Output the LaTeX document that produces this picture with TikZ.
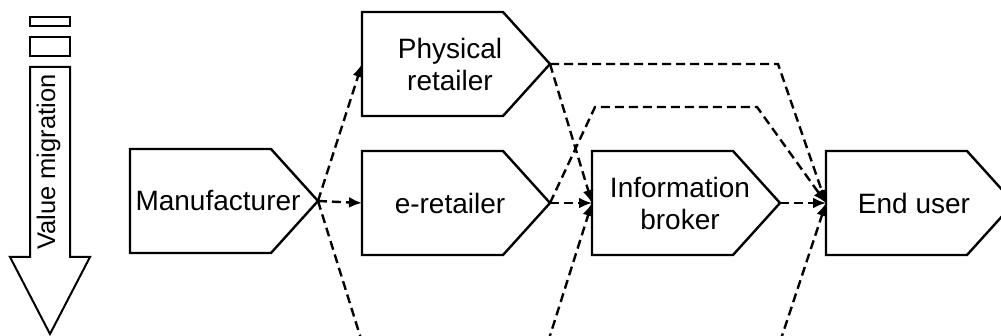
\documentclass[tikz,border=0pt]{standalone}
\usepackage{fontspec}
\setmainfont{Liberation Sans}
\usetikzlibrary{arrows.meta}

% chevron box: left edge x, centre y, label; defines name-w, name-e and the label node
\newcommand{\chevbox}[4]{%
  \draw[boxline] (#2,#3-52) -- (#2+141,#3-52) -- (#2+188,#3) -- (#2+141,#3+52)
    -- (#2,#3+52) -- cycle;
  \coordinate (#1-w) at (#2,#3);
  \coordinate (#1-e) at (#2+188,#3);
  \node[boxtext] (#1) at (#2+88,#3) {#4};
}

\begin{document}
\begin{tikzpicture}[x=1pt,y=-1pt,
  boxline/.style={line width=2.4pt,fill=white,line join=miter},
  boxtext/.style={align=center,font=\fontsize{28}{32}\selectfont,inner sep=0pt},
  flow/.style={line width=2.4pt,dash pattern=on 9pt off 5pt},
  flowarrow/.style={flow,-{Latex[length=13pt,width=11pt]}},
  vmline/.style={line width=2pt,fill=white}]
\useasboundingbox (0,0) rectangle (1001,336);
\clip (0,0) rectangle (1001,336);

% value migration arrow
\draw[vmline] (30,17) rectangle (70,26.5);
\draw[vmline] (30,37) rectangle (70,56.5);
\draw[vmline] (30,67) -- (70,67) -- (70,257) -- (90,257) -- (50,334)
  -- (10,257) -- (30,257) -- cycle;
\node[rotate=90,anchor=base,inner sep=0pt,font=\fontsize{25.5}{28}\selectfont]
  (vm) at (55,162) {Value migration};

% boxes
\chevbox{man}{130}{201}{Manufacturer}
\chevbox{phys}{362}{64}{Physical\\retailer}
\chevbox{eret}{362}{203}{e-retailer}
\chevbox{info}{592}{203}{Information\\broker}
\chevbox{end}{826}{203}{End user}

% free ends of flows leaving the picture
\coordinate (low1-w) at (362,342);
\coordinate (low2-e) at (548,342);
\coordinate (low3-e) at (780,342);
\coordinate (pe-bend) at (778,64);
\coordinate (ee-bend1) at (595,107);
\coordinate (ee-bend2) at (757,107);

% flows
\draw[flowarrow] (man-e) -- (phys-w);
\draw[flowarrow] (man-e) -- (eret-w);
\draw[flow] (man-e) -- (low1-w);
\draw[flowarrow] (phys-e) -- (info-w);
\draw[flowarrow] (phys-e) -- (pe-bend) -- (end-w);
\draw[flowarrow] (eret-e) -- (info-w);
\draw[flowarrow] (eret-e) -- (ee-bend1) -- (ee-bend2) -- (end-w);
\draw[flowarrow] (info-e) -- (end-w);
\draw[flowarrow] (low2-e) -- (info-w);
\draw[flowarrow] (low3-e) -- (end-w);
\end{tikzpicture}
\end{document}
